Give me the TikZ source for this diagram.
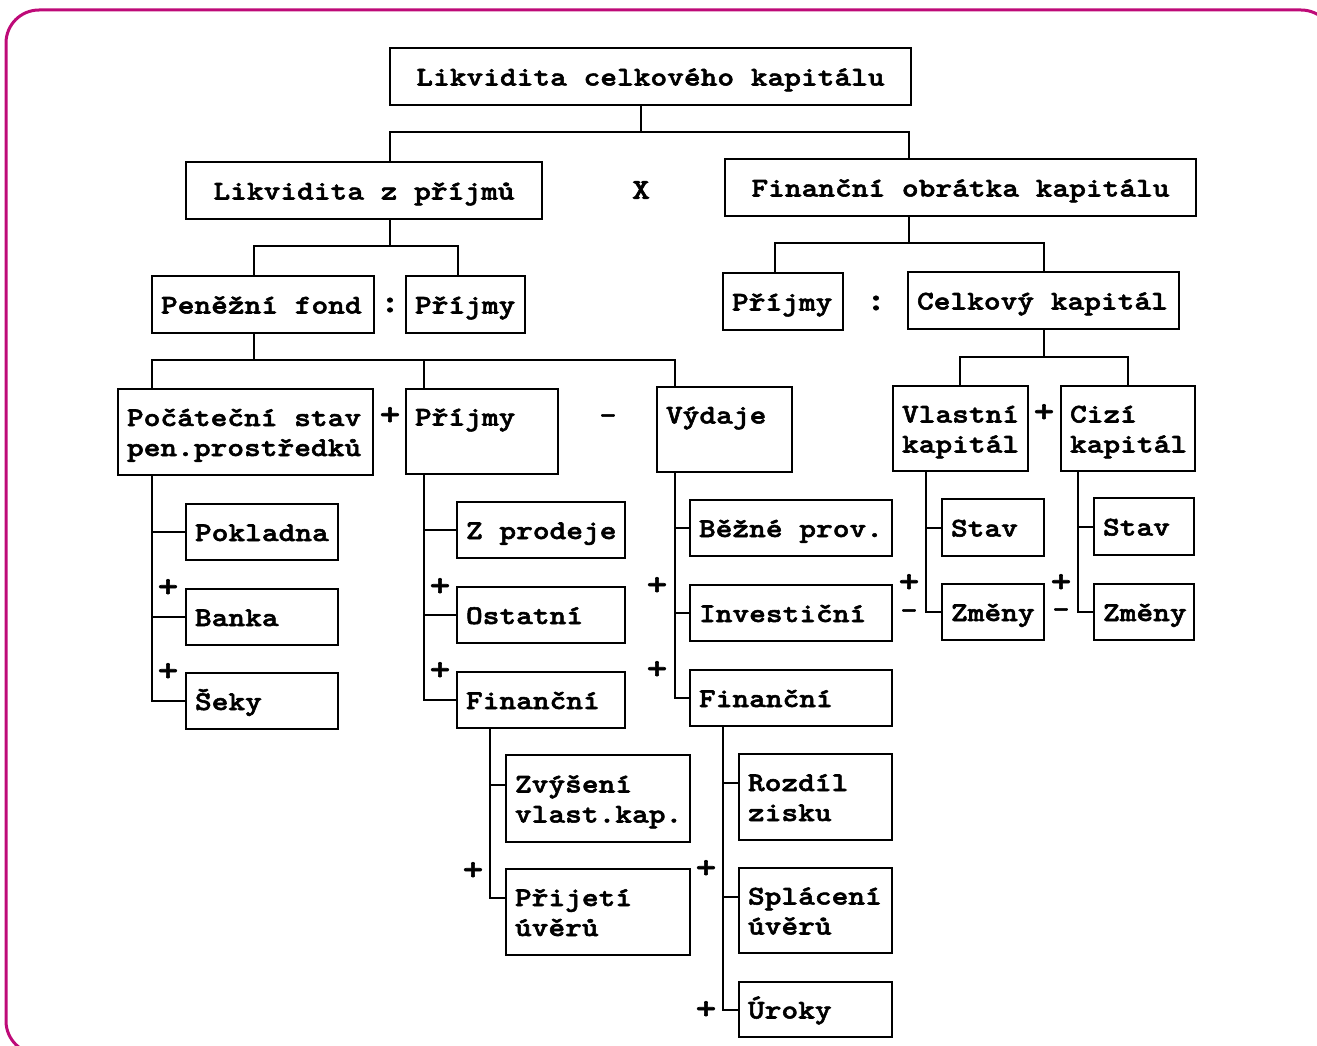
\documentclass[tikz,border=0pt]{standalone}
\usepackage{fontspec}
\newfontfamily\boxfont[FakeStretch=1.18,FakeBold=2]{lmmonolt10-bold.otf}
\usetikzlibrary{calc}
\definecolor{framecol}{RGB}{190,10,120}
\newcommand{\bxstrut}{\rule[-6pt]{0pt}{30pt}}
\newcommand{\bxl}[1]{\mbox{\bxstrut#1}}
\newcommand{\bsp}{\hspace*{16.7pt}}
\newcommand{\bxsel}{\boxfont\fontsize{27}{30}\selectfont}
\newcommand{\opsel}{\boxfont\fontsize{33}{36}\selectfont}
\tikzset{
  bxfont/.style={font=\bxsel},
  box/.style={draw, line width=2pt, rectangle, anchor=north west, inner xsep=9pt,
    inner ysep=0pt, outer sep=0pt, align=left, bxfont},
  cbox/.style={box, align=center},
  op/.style={font=\opsel, inner sep=0pt, outer sep=0pt},
  opm/.style={bxfont, inner sep=0pt, outer sep=0pt},
  conn/.style={line width=2pt},
  border/.style={draw=framecol, line width=3pt, rounded corners=33pt},
}
\begin{document}
\begin{tikzpicture}[x=1pt,y=-1pt]
\useasboundingbox (0,0) rectangle (1317,1046);
\draw[border] (6,10) rectangle (1334,1054);

% level 0/1
\node[cbox, text width=503, minimum height=57] (top) at (390,48) {\bxl{Likvidita\bsp celkového\bsp kapitálu}};
\node[cbox, text width=338, minimum height=57] (lz) at (186,162) {\bxl{Likvidita\bsp z\bsp příjmů}};
\node[cbox, text width=453, minimum height=57] (fo) at (725,159) {\bxl{Finanční\bsp obrátka\bsp kapitálu}};
\node[opm, font=\boxfont\fontsize{29}{30}\selectfont] (opx) at (641,190) {X};

% level 2
\node[box, text width=204, minimum height=57] (pf) at (152,276) {\bxl{Peněžní\bsp fond}};
\node[box, text width=101, minimum height=57] (pr1) at (406,276) {\bxl{Příjmy}};
\node[op] (opc1) at (390,305) {:};
\node[box, text width=102, minimum height=57] (pr2) at (723,273) {\bxl{Příjmy}};
\node[box, text width=253, minimum height=57] (ck) at (908,272) {\bxl{Celkový\bsp kapitál}};
\node[op] (opc2) at (876,303) {:};

% level 3
\node[box, text width=237, minimum height=86] (ps) at (118,389) {\bxl{Počáteční\bsp stav}\\\bxl{pen.prostředků}};
\node[op] (opp1) at (390,416) {+};
\node[box, text width=134, minimum height=85] (pr3) at (406,389) {\bxl{Příjmy}\\\bxl{}};
\node[opm] (opm1) at (608,419) {–};
\node[box, text width=117, minimum height=85] (vy) at (657,387) {\bxl{Výdaje}\\\bxl{}};
\node[box, text width=117, minimum height=85] (vk) at (893,386) {\bxl{Vlastní}\\\bxl{kapitál}};
\node[op] (opp2) at (1044,413) {+};
\node[box, text width=116, minimum height=85] (cz) at (1061,386) {\bxl{Cizí}\\\bxl{kapitál}};

% level 4
\node[box, text width=134, minimum height=56] (pok) at (186,504) {\bxl{Pokladna}};
\node[box, text width=134, minimum height=56] (ban) at (186,589) {\bxl{Banka}};
\node[box, text width=134, minimum height=56] (sek) at (186,673) {\bxl{Šeky}};
\node[op] (opp3) at (168,588) {+};
\node[op] (opp4) at (168,672) {+};

\node[box, text width=150, minimum height=56] (zpr) at (457,502) {\bxl{Z\bsp prodeje}};
\node[box, text width=150, minimum height=56] (ost) at (457,587) {\bxl{Ostatní}};
\node[box, text width=150, minimum height=56] (fin1) at (457,672) {\bxl{Finanční}};
\node[op] (opp5) at (440,587) {+};
\node[op] (opp6) at (440,671) {+};

\node[box, text width=184, minimum height=56] (bez) at (690,500) {\bxl{Běžné\bsp prov.}};
\node[box, text width=184, minimum height=56] (inv) at (690,585) {\bxl{Investiční}};
\node[box, text width=184, minimum height=56] (fin2) at (690,670) {\bxl{Finanční}};
\node[op] (opp7) at (657,586) {+};
\node[op] (opp8) at (657,670) {+};

\node[box, text width=84, minimum height=57] (st1) at (942,499) {\bxl{Stav}};
\node[box, text width=84, minimum height=56] (zm1) at (942,584) {\bxl{Změny}};
\node[op] (opp9) at (909,583) {+};
\node[opm] (opm2) at (909,614) {–};
\node[box, text width=82, minimum height=57] (st2) at (1094,498) {\bxl{Stav}};
\node[box, text width=82, minimum height=56] (zm2) at (1094,584) {\bxl{Změny}};
\node[op] (opp10) at (1061,583) {+};
\node[opm] (opm3) at (1061,613) {–};

% level 5
\node[box, text width=166, minimum height=87] (zvy) at (506,755) {\bxl{Zvýšení}\\\bxl{vlast.kap.}};
\node[box, text width=166, minimum height=86] (pri) at (506,869) {\bxl{Přijetí}\\\bxl{úvěrů}};
\node[op] (opp11) at (473,871) {+};
\node[box, text width=135, minimum height=86] (roz) at (739,754) {\bxl{Rozdíl}\\\bxl{zisku}};
\node[box, text width=135, minimum height=85] (spl) at (739,868) {\bxl{Splácení}\\\bxl{úvěrů}};
\node[box, text width=135, minimum height=55] (uro) at (739,982) {\bxl{Úroky}};
\node[op] (opp12) at (706,869) {+};
\node[op] (opp13) at (706,1010) {+};

% tree connectors
\coordinate (j1) at (641,132);
\draw[conn] (top.south -| j1) -- (j1);
\draw[conn] (lz.north -| 390,0) |- (j1) -| (fo.north -| 909,0);

\coordinate (j2) at (390,246);
\draw[conn] (lz.south -| j2) -- (j2);
\draw[conn] (pf.north -| 254,0) |- (j2) -| (pr1.north -| 458,0);

\coordinate (j3) at (909,243);
\draw[conn] (fo.south -| j3) -- (j3);
\draw[conn] (pr2.north -| 775,0) |- (j3) -| (ck.north -| 1044,0);

\coordinate (j4) at (254,360);
\draw[conn] (pf.south -| j4) -- (j4);
\draw[conn] (ps.north -| 152,0) |- (j4) -| (vy.north -| 675,0);
\draw[conn] (pr3.north -| 424,0) -- (j4 -| 424,0);

\coordinate (j5) at (1044,357);
\draw[conn] (ck.south -| j5) -- (j5);
\draw[conn] (vk.north -| 960,0) |- (j5) -| (cz.north -| 1128,0);

% branch connectors
\draw[conn] (ps.south -| 152,0) |- (sek.west);
\draw[conn] (pok.west -| 152,0) -- (pok.west);
\draw[conn] (ban.west -| 152,0) -- (ban.west);

\draw[conn] (pr3.south -| 424,0) |- (fin1.west);
\draw[conn] (zpr.west -| 424,0) -- (zpr.west);
\draw[conn] (ost.west -| 424,0) -- (ost.west);

\draw[conn] (vy.south -| 675,0) |- (fin2.west);
\draw[conn] (bez.west -| 675,0) -- (bez.west);
\draw[conn] (inv.west -| 675,0) -- (inv.west);

\draw[conn] (vk.south -| 926,0) |- (zm1.west);
\draw[conn] (st1.west -| 926,0) -- (st1.west);

\draw[conn] (cz.south -| 1078,0) |- (zm2.west);
\draw[conn] (st2.west -| 1078,0) -- (st2.west);

\coordinate (zvyin) at ($(zvy.north west)+(0,30)$);
\coordinate (priin) at ($(pri.north west)+(0,29)$);
\draw[conn] (fin1.south -| 490,0) |- (priin);
\draw[conn] (zvyin -| 490,0) -- (zvyin);

\coordinate (rozin) at ($(roz.north west)+(0,29)$);
\coordinate (splin) at ($(spl.north west)+(0,29)$);
\draw[conn] (fin2.south -| 723,0) |- (uro.west);
\draw[conn] (rozin -| 723,0) -- (rozin);
\draw[conn] (splin -| 723,0) -- (splin);
\end{tikzpicture}
\end{document}
